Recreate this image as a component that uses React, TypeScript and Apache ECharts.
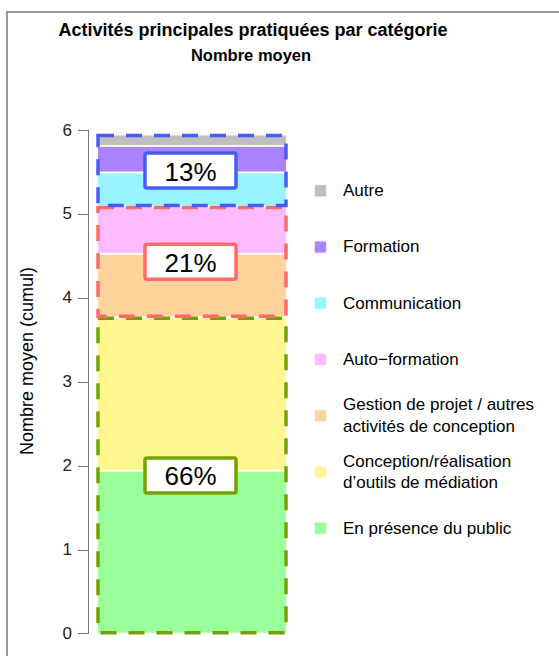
import React, { useEffect, useRef } from "react";
import * as echarts from "echarts";

// Stack order: bottom to top
const categories = [
  "En présence du public",
  "Conception/réalisation\nd’outils de médiation",
  "Gestion de projet / autres\nactivités de conception",
  "Auto−formation",
  "Communication",
  "Formation",
  "Autre",
];
const values = [1.94, 1.83, 0.755, 0.565, 0.405, 0.315, 0.135];
const colors = ["#9AFF9A", "#FFF68F", "#FFD39B", "#FFBBFF", "#98F5FF", "#AB82FF", "#BEBEBE"];

// Groups of stacked segments (index ranges, inclusive start, exclusive end)
const groupRanges = [
  [0, 2],
  [2, 4],
  [4, 7],
];
const groupLabels = ["66%", "21%", "13%"];
const groupColors = ["#76A200", "#FF6A6A", "#4A5CF7"];

const yTicks = [0, 1, 2, 3, 4, 5, 6];

const FONT = "Liberation Sans, Arial, Helvetica, sans-serif";

export default function App() {
  const ref = useRef<HTMLDivElement>(null);

  useEffect(() => {
    if (!ref.current) return;
    const chart = echarts.init(ref.current, null, { renderer: "svg" });

    const cum: number[] = [0];
    values.forEach((v, i) => cum.push(cum[i] + v));
    const groupData = groupRanges.map((r) => [0, cum[r[0]], cum[r[1]]]);

    const BAR_W = 190;

    const barSeries = categories.map((name, i) => ({
      name,
      type: "bar",
      stack: "total",
      data: [values[i]],
      barWidth: BAR_W,
      itemStyle: { color: colors[i], borderColor: "rgba(255,255,255,0.8)", borderWidth: 1 },
      emphasis: { disabled: true },
      z: 2,
    }));

    const customSeries = {
      type: "custom",
      name: "groups",
      data: groupData,
      z: 5,
      silent: true,
      encode: { x: 0, y: [1, 2] },
      renderItem: (params: any, api: any) => {
        const i = params.dataIndex;
        const p0 = api.coord([api.value(0), api.value(1)]);
        const p1 = api.coord([api.value(0), api.value(2)]);
        const cx = p0[0];
        const yBottom = p0[1];
        const yTop = p1[1];
        const cy = (yBottom + yTop) / 2;
        const color = groupColors[i];
        return {
          type: "group",
          children: [
            {
              type: "rect",
              shape: { x: cx - BAR_W / 2 + 1, y: yTop + 1, width: BAR_W - 2, height: yBottom - yTop - 2 },
              style: { fill: "none", stroke: color, lineWidth: 3.5, lineDash: [16, 12] },
            },
            {
              type: "rect",
              shape: { x: cx - 47, y: cy - 17.5, width: 91, height: 35, r: 2 },
              style: { fill: "#fff", stroke: color, lineWidth: 3.5 },
            },
            {
              type: "text",
              x: cx - 1.5,
              y: cy + 1,
              style: {
                text: groupLabels[i],
                fill: "#000",
                font: `26px ${FONT}`,
                align: "center",
                verticalAlign: "middle",
              },
            },
          ],
        };
      },
    };

    chart.setOption({
      animation: false,
      textStyle: { fontFamily: FONT },
      title: [
        {
          text: "Activités principales pratiquées par catégorie",
          left: 248,
          top: 16,
          textAlign: "center",
          textStyle: { fontSize: 18, fontWeight: "bold", color: "#000", fontFamily: FONT },
        },
        {
          text: "Nombre moyen",
          left: 246,
          top: 41,
          textAlign: "center",
          textStyle: { fontSize: 16.5, fontWeight: "bold", color: "#000", fontFamily: FONT },
        },
      ],
      legend: {
        orient: "vertical",
        left: 313,
        top: 169,
        padding: 0,
        itemWidth: 13,
        itemHeight: 13,
        itemGap: 12.87,
        icon: "rect",
        selectedMode: false,
        data: [...categories].reverse(),
        formatter: (name: string) => {
          const lines = name.split("\n");
          if (lines.length === 1) return `{s|${name}}`;
          return lines.map((l) => `{d|${l}}`).join("\n");
        },
        textStyle: {
          fontSize: 17,
          color: "#000",
          fontFamily: FONT,
          lineHeight: 21.7,
          padding: [0, 0, 0, 11],
          rich: {
            s: { fontSize: 17, lineHeight: 43.4, color: "#000", fontFamily: FONT },
            d: { fontSize: 17, lineHeight: 21.7, color: "#000", fontFamily: FONT },
          },
        },
      },
      grid: { left: 88, top: 130, width: 208, height: 503.7, containLabel: false },
      xAxis: {
        type: "category",
        data: [""],
        show: false,
      },
      yAxis: {
        type: "value",
        min: yTicks[0],
        max: yTicks[yTicks.length - 1],
        interval: 1,
        axisLine: { show: true, lineStyle: { color: "#777", width: 1 } },
        axisTick: { show: true, length: 10, lineStyle: { color: "#777" } },
        axisLabel: { fontSize: 17, color: "#222", margin: 16, fontFamily: FONT },
        splitLine: { show: false },
      },
      graphic: [
        {
          type: "rect",
          shape: { x: 7, y: 12, width: 700, height: 800 },
          style: { fill: "none", stroke: "#999", lineWidth: 2 },
          silent: true,
        },
        {
          type: "text",
          x: 27,
          y: 361,
          rotation: Math.PI / 2,
          style: {
            text: "Nombre moyen (cumul)",
            font: `18px ${FONT}`,
            fill: "#000",
            align: "center",
            verticalAlign: "middle",
          },
        },
      ],
      series: [...barSeries, customSeries],
    });

    return () => chart.dispose();
  }, []);

  return (
    <div
      ref={ref}
      style={{ position: "absolute", left: 0, top: 0, width: 559, height: 656 }}
    />
  );
}
